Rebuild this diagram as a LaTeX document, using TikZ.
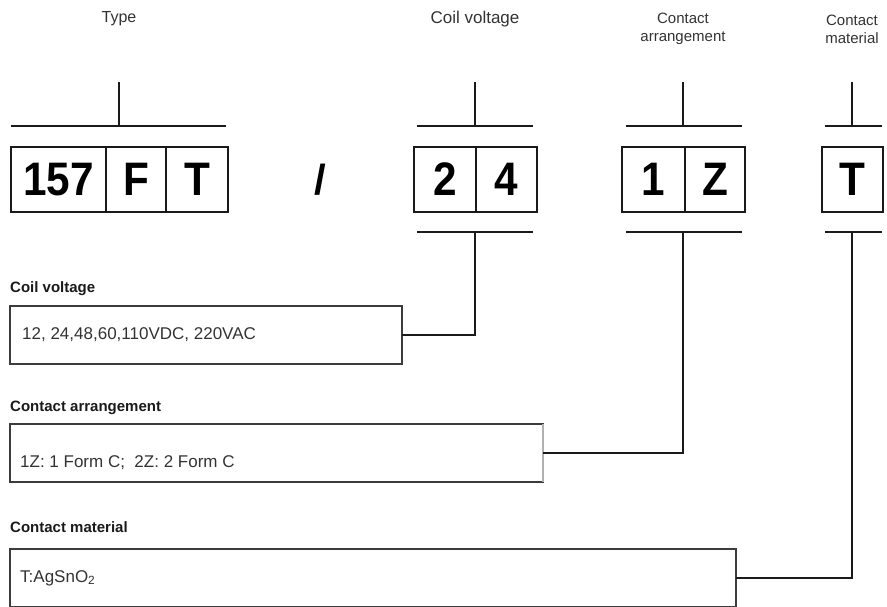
\documentclass[tikz,border=0pt]{standalone}
\usepackage{fontspec}
\setmainfont{Liberation Sans}
\newfontfamily\cellfont[FakeStretch=0.9]{Liberation Sans}
\usetikzlibrary{positioning,calc}
\definecolor{ink}{HTML}{1A1A1A}
\definecolor{frame}{HTML}{3C3C3C}
\definecolor{textgray}{HTML}{333333}
\tikzset{
  cell/.style={draw=ink,line width=2pt,outer sep=0pt,inner sep=0pt,minimum height=65pt,font=\cellfont\fontsize{47}{47}\selectfont\bfseries},
  bracket/.style={draw=ink,line width=1.4pt},
  desc/.style={draw=frame,line width=1.1pt,outer sep=0pt,inner sep=0pt,minimum height=58pt},
  head/.style={font=\fontsize{15}{18}\selectfont,text=textgray,align=center},
  title/.style={font=\fontsize{15}{17}\selectfont\bfseries,anchor=west,inner sep=0pt,text=ink},
  entry/.style={font=\fontsize{17}{19}\selectfont,anchor=west,inner sep=0pt,text=textgray},
  link/.style={draw=ink,line width=1.3pt},
}
\begin{document}
\begin{tikzpicture}[x=1pt,y=-1pt]
  \useasboundingbox (0,0) rectangle (887,606);
  % header labels
  \node[head,font=\fontsize{16}{18}\selectfont] (htype) at (119,19) {Type};
  \node[head,font=\fontsize{17}{18}\selectfont] (hvolt) at (475,19) {Coil voltage};
  \node[head] (harr) at (683,29) {Contact\\arrangement};
  \node[head] (hmat) at (852,29) {Contact\\material};
  % code cells
  \node[cell,minimum width=95pt] (c157) at (58.5,179.5) {157};
  \node[cell,minimum width=60pt,right=0pt of c157] (cF) {F};
  \node[cell,minimum width=62pt,right=0pt of cF] (cT) {T};
  \node[font=\fontsize{42}{42}\selectfont\bfseries] (slash) at (320,180) {/};
  \node[cell,minimum width=62pt] (c2) at (445,179.5) {2};
  \node[cell,minimum width=61pt,right=0pt of c2] (c4) {4};
  \node[cell,minimum width=63pt] (c1) at (653.5,179.5) {1};
  \node[cell,minimum width=60pt,right=0pt of c1] (cZ) {Z};
  \node[cell,minimum width=61pt] (cM) at (852.5,179.5) {T};
  % brackets
  \draw[bracket] (11,126) -- (226,126); \draw[bracket] (119,82) -- (119,126);
  \draw[bracket] (417,126) -- (533,126); \draw[bracket] (475,82) -- (475,126);
  \draw[bracket] (626,126) -- (742,126); \draw[bracket] (683,82) -- (683,126);
  \draw[bracket] (825,126) -- (882,126); \draw[bracket] (852,82) -- (852,126);
  \draw[bracket] (417,232) -- (533,232); \coordinate (vb) at (475,232);
  \draw[bracket] (626,232) -- (742,232); \coordinate (ab) at (683,232);
  \draw[bracket] (825,232) -- (882,232); \coordinate (mb) at (852,232);
  % descriptions
  \node[title] (tvolt) at (10,289) {Coil voltage};
  \node[desc,minimum width=392pt] (vbox) at (206,335) {};
  \node[entry] (evolt) at (22,335) {12, 24,48,60,110VDC, 220VAC};
  \node[title] (tarr) at (10,408) {Contact arrangement};
  \node[desc,minimum width=533pt] (abox) at (276.5,453) {};
  \draw[frame!40,line width=1.1pt] (abox.north east) -- (abox.south east);
  \node[entry] (earr) at (20,463) {1Z: 1 Form C;~ 2Z: 2 Form C};
  \node[title] (tmat) at (10,527) {Contact material};
  \node[desc,minimum width=726pt] (mbox) at (373,578) {};
  \node[entry] (emat) at (20,578) {T:AgSnO\textsubscript{2}};
  % links
  \draw[link] (vbox.east) -| (vb);
  \draw[link] (abox.east) -| (ab);
  \draw[link] (mbox.east) -| (mb);
\end{tikzpicture}
\end{document}
